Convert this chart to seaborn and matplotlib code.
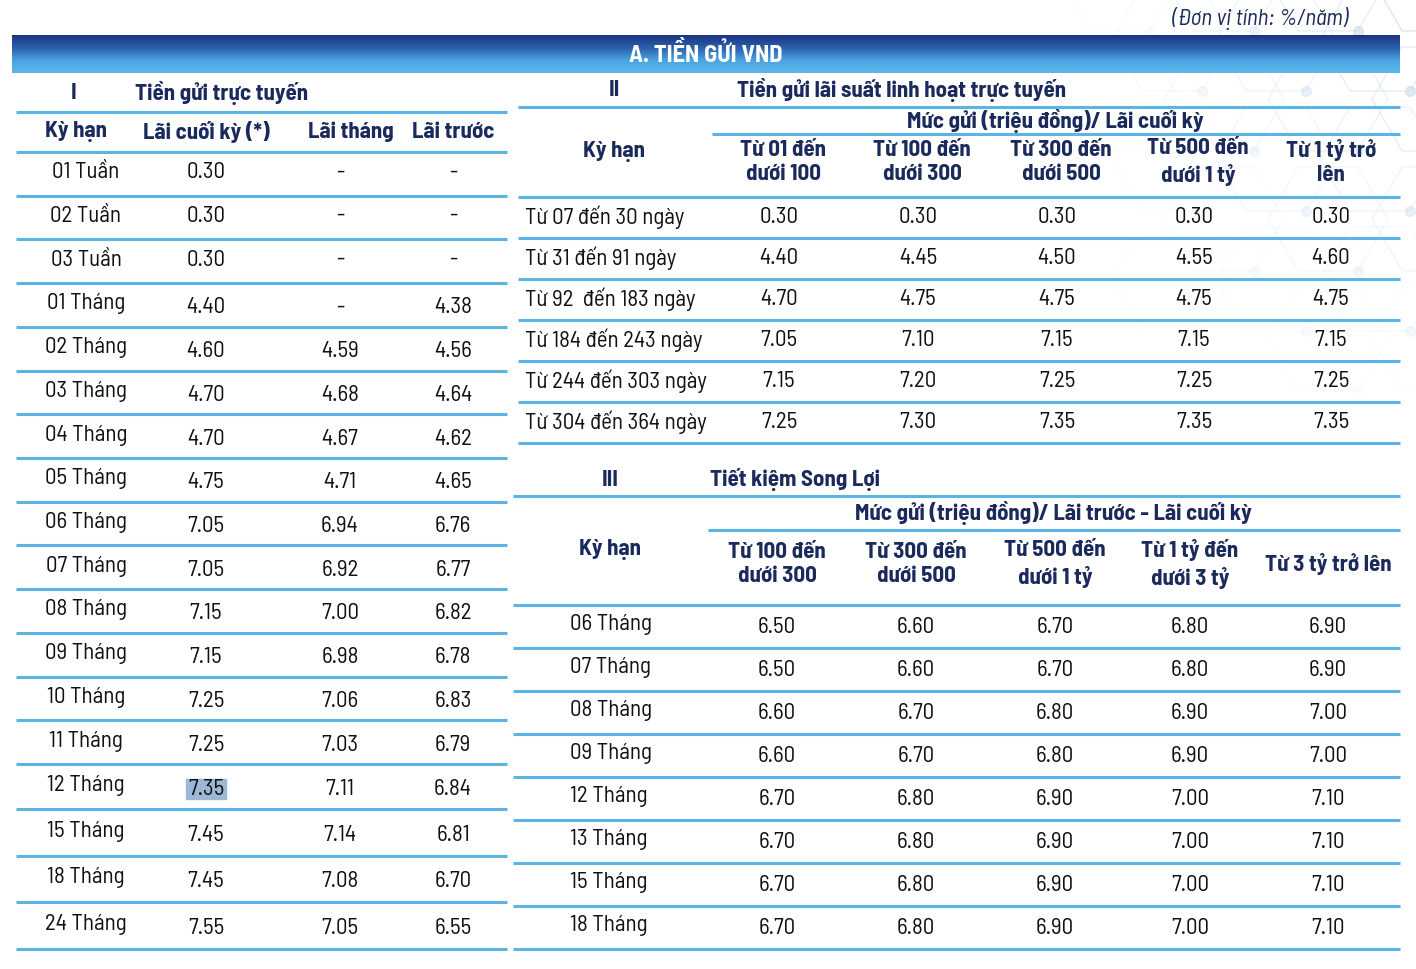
import numpy as np
import matplotlib
matplotlib.use('Agg')
import matplotlib.pyplot as plt
from matplotlib import font_manager
from matplotlib.colors import LinearSegmentedColormap
from matplotlib.patches import Rectangle, RegularPolygon
import seaborn as sns

# ---- data: A. Tiền gửi VND (%/năm) ----
# I. Tiền gửi trực tuyến
online_terms = ['01 Tuần', '02 Tuần', '03 Tuần', '01 Tháng', '02 Tháng', '03 Tháng',
                '04 Tháng', '05 Tháng', '06 Tháng', '07 Tháng', '08 Tháng', '09 Tháng',
                '10 Tháng', '11 Tháng', '12 Tháng', '15 Tháng', '18 Tháng', '24 Tháng']
online_end = [0.30, 0.30, 0.30, 4.40, 4.60, 4.70, 4.70, 4.75, 7.05, 7.05, 7.15, 7.15,
              7.25, 7.25, 7.35, 7.45, 7.45, 7.55]
online_month = [None, None, None, None, 4.59, 4.68, 4.67, 4.71, 6.94, 6.92, 7.00, 6.98,
                7.06, 7.03, 7.11, 7.14, 7.08, 7.05]
online_upfront = [None, None, None, 4.38, 4.56, 4.64, 4.62, 4.65, 6.76, 6.77, 6.82, 6.78,
                  6.83, 6.79, 6.84, 6.81, 6.70, 6.55]
online_cols = ['Kỳ hạn', 'Lãi cuối kỳ (*)', 'Lãi tháng', 'Lãi trước']

# II. Tiền gửi lãi suất linh hoạt trực tuyến
flex_terms = ['Từ 07 đến 30 ngày', 'Từ 31 đến 91 ngày', 'Từ 92  đến 183 ngày',
              'Từ 184 đến 243 ngày', 'Từ 244 đến 303 ngày', 'Từ 304 đến 364 ngày']
flex_tiers = ['Từ 01 đến\ndưới 100', 'Từ 100 đến\ndưới 300', 'Từ 300 đến\ndưới 500',
              'Từ 500 đến\ndưới 1 tỷ', 'Từ 1 tỷ trở\nlên']
flex_t1 = [0.30, 4.40, 4.70, 7.05, 7.15, 7.25]
flex_t2 = [0.30, 4.45, 4.75, 7.10, 7.20, 7.30]
flex_t3 = [0.30, 4.50, 4.75, 7.15, 7.25, 7.35]
flex_t4 = [0.30, 4.55, 4.75, 7.15, 7.25, 7.35]
flex_t5 = [0.30, 4.60, 4.75, 7.15, 7.25, 7.35]

# III. Tiết kiệm Song Lợi
song_terms = ['06 Tháng', '07 Tháng', '08 Tháng', '09 Tháng',
              '12 Tháng', '13 Tháng', '15 Tháng', '18 Tháng']
song_tiers = ['Từ 100 đến\ndưới 300', 'Từ 300 đến\ndưới 500', 'Từ 500 đến\ndưới 1 tỷ',
              'Từ 1 tỷ đến\ndưới 3 tỷ', 'Từ 3 tỷ trở lên']
song_t1 = [6.50, 6.50, 6.60, 6.60, 6.70, 6.70, 6.70, 6.70]
song_t2 = [6.60, 6.60, 6.70, 6.70, 6.80, 6.80, 6.80, 6.80]
song_t3 = [6.70, 6.70, 6.80, 6.80, 6.90, 6.90, 6.90, 6.90]
song_t4 = [6.80, 6.80, 6.90, 6.90, 7.00, 7.00, 7.00, 7.00]
song_t5 = [6.90, 6.90, 7.00, 7.00, 7.10, 7.10, 7.10, 7.10]

# ---- style ----
sns.set_theme(style='white')


def wnum(w):
    if isinstance(w, str):
        return font_manager.weight_dict.get(w, 400)
    return w


# the original uses a condensed sans: prefer a semi-condensed face with a bold cut
weights = {}
for f in font_manager.fontManager.ttflist:
    if ('Narrow' in f.name or 'Condensed' in f.name) and f.style == 'normal':
        weights.setdefault(f.name, set()).add(wnum(f.weight))


def rank(name):
    if 'SemiCondensed' in name or 'Semi Condensed' in name:
        return 0
    if 'Extra' in name or 'Ultra' in name:
        return 3
    if 'Narrow' in name:
        return 1
    return 2


body_font = bold_font = 'Roboto'
for name in sorted(weights, key=lambda n: (rank(n), n)):
    ws = weights[name]
    if any(390 <= w <= 500 for w in ws) and any(w >= 600 for w in ws):
        body_font = bold_font = name
        break
if body_font == 'Roboto':
    for name in sorted(weights, key=lambda n: (rank(n), n)):
        if any(390 <= w <= 500 for w in weights[name]):
            body_font = name
            break
plt.rcParams['font.family'] = [body_font, 'DejaVu Sans']
semi = rank(body_font) <= 1
fs = 16.5 if semi else 17
hfs = 16.5 if semi else 17
if body_font == 'Roboto':
    fs = hfs = 14.3

NAVY = '#1b2a5c'
RULE = '#5ab4e4'
INK = '#111111'

fig = plt.figure(figsize=(14.16, 9.70), dpi=100)
ax = fig.add_axes([0, 0, 1, 1])


def fmt(v):
    return '-' if v is None else f'{v:.2f}'


def rule(y, x0, x1):
    ax.plot([x0, x1], [y, y], color=RULE, lw=2.2, solid_capstyle='butt')


def head(x, y, s, ha='center', size=None):
    ax.text(x, y, s, ha=ha, va='center', fontsize=size or hfs, fontweight='bold',
            family=[bold_font, 'DejaVu Sans'], color=NAVY, linespacing=1.3)


# faint hexagon pattern, top right corner
for cx in np.arange(1120, 1460, 104):
    for k, cy in enumerate(np.arange(-20, 360, 60)):
        px = cx + (52 if k % 2 else 0)
        fade = max(0.0, 1 - (1416 - px) / 330) * max(0.0, 1 - cy / 380)
        if fade <= 0.05:
            continue
        ax.add_patch(RegularPolygon((px, cy), 6, radius=60, orientation=np.pi / 6,
                                    fill=False, ec='#c9dcec', lw=1, alpha=0.6 * fade, zorder=0))
        ax.plot(px + 30, cy + 52, 'o', ms=7, color='#bcd6ea', alpha=0.6 * fade, zorder=0)

# unit note and banner
ax.text(1348, 18, '(Đơn vị tính: %/năm)', ha='right', va='center', fontsize=fs,
        style='italic', color=NAVY)
grad = LinearSegmentedColormap.from_list('banner', ['#1c3480', '#2a60ad', '#4aa3df', '#5cb8ec'])
ax.imshow(np.linspace(0, 1, 64).reshape(-1, 1), extent=(12, 1400, 74, 36),
          origin='upper', aspect='auto', cmap=grad, zorder=1)
ax.text(706, 55, 'A. TIỀN GỬI VND', ha='center', va='center', fontsize=hfs + 1,
        fontweight='bold', family=[bold_font, 'DejaVu Sans'], color='white', zorder=2)

# ---- table I ----
L0, L1 = 16, 507
head(74, 93, 'I')
head(135, 93, 'Tiền gửi trực tuyến', ha='left')
rule(113, L0, L1)
for x, s in zip([76, 206, 351, 453], online_cols):
    head(x, 132, s)
rule(153, L0, L1)
left_edges = np.concatenate([np.linspace(153, 765, 15), [810, 857, 903, 950]])
for i, term in enumerate(online_terms):
    yc = (left_edges[i] + left_edges[i + 1]) / 2
    dy = -2 if i < 3 else 2
    ax.text(86, yc - 2, term, ha='center', va='center', fontsize=fs, color=INK)
    for x, v in zip([206, 340, 453], [online_end[i], online_month[i], online_upfront[i]]):
        ax.text(x, yc + dy, fmt(v), ha='center', va='center', fontsize=fs, color=INK)
        if term == '12 Tháng' and x == 206:
            ax.add_patch(Rectangle((186, yc + dy - 10), 40, 20, color='#9db8d6', zorder=0.5))
    rule(left_edges[i + 1], L0, L1)

# ---- table II ----
R0, R1 = 518, 1400
head(614, 90, 'II')
head(737, 90, 'Tiền gửi lãi suất linh hoạt trực tuyến', ha='left')
rule(108, R0, R1)
head(1055, 121, 'Mức gửi (triệu đồng)/ Lãi cuối kỳ')
rule(135, 712, R1)
head(614, 152, 'Kỳ hạn')
for x, s in zip([783, 922, 1061, 1198, 1331], flex_tiers):
    head(x, 162, s)
flex_cols = [flex_t1, flex_t2, flex_t3, flex_t4, flex_t5]
flex_edges = np.linspace(198, 444, 7)
rule(flex_edges[0], R0, R1)
for i, term in enumerate(flex_terms):
    yc = (flex_edges[i] + flex_edges[i + 1]) / 2
    ax.text(525, yc - 1, term, ha='left', va='center', fontsize=fs, color=INK)
    for x, col in zip([779, 918, 1057, 1194, 1331], flex_cols):
        ax.text(x, yc - 1, fmt(col[i]), ha='center', va='center', fontsize=fs, color=INK)
    rule(flex_edges[i + 1], R0, R1)

# ---- table III ----
S0 = 513
head(610, 480, 'III')
head(710, 480, 'Tiết kiệm Song Lợi', ha='left')
rule(497, S0, R1)
head(1053, 513, 'Mức gửi (triệu đồng)/ Lãi trước - Lãi cuối kỳ')
rule(531, 708, R1)
head(610, 550, 'Kỳ hạn')
for x, s in zip([777, 916, 1055, 1190, 1328], song_tiers):
    head(x, 564, s)
song_cols = [song_t1, song_t2, song_t3, song_t4, song_t5]
song_edges = np.linspace(606, 950, 9)
rule(song_edges[0], S0, R1)
for i, term in enumerate(song_terms):
    yc = (song_edges[i] + song_edges[i + 1]) / 2
    ax.text(570, yc - 3, term, ha='left', va='center', fontsize=fs, color=INK)
    for x, col in zip([777, 916, 1055, 1190, 1328], song_cols):
        ax.text(x, yc, fmt(col[i]), ha='center', va='center', fontsize=fs, color=INK)
    rule(song_edges[i + 1], S0, R1)

ax.set_xlim(0, 1416)
ax.set_ylim(970, 0)
ax.axis('off')
fig.savefig('out.png', dpi=100, facecolor='white')
